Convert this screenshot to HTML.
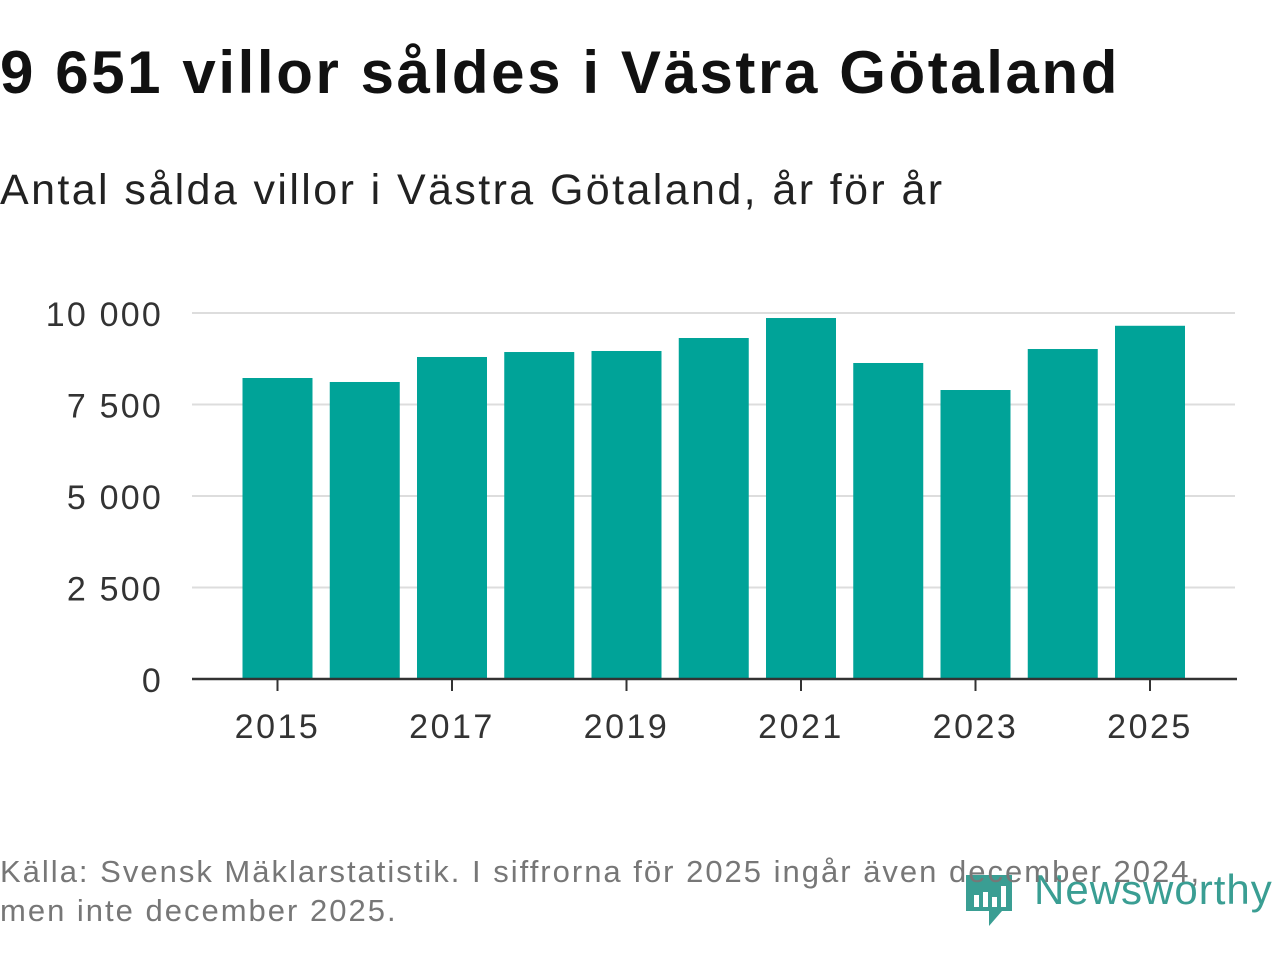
<!DOCTYPE html>
<html><head><meta charset="utf-8"><style>
body{margin:0;width:1280px;height:960px;background:#fff;font-family:"Liberation Sans",sans-serif;position:relative;overflow:hidden}
#title{position:absolute;left:0;top:38px;font-size:60px;font-weight:bold;color:#111;white-space:nowrap;letter-spacing:2.6px}
#sub{position:absolute;left:0;top:166px;font-size:43px;color:#222;white-space:nowrap;letter-spacing:2.4px}
#src{position:absolute;left:0;top:852px;font-size:31px;color:#777;line-height:39px;z-index:2;letter-spacing:2px;white-space:nowrap}
svg{position:absolute;left:0;top:0}
</style></head><body>
<div id="title">9 651 villor såldes i Västra Götaland</div>
<div id="sub">Antal sålda villor i Västra Götaland, år för år</div>
<svg id="chart" width="1280" height="960">
<g>
<path d="M966 875 h46 v36 h-10 l-13 15 v-15 h-23 z" fill="#3a9e93"/>
<rect x="974" y="895" width="5" height="12" fill="#fff"/><rect x="983" y="892" width="5" height="15" fill="#fff"/><rect x="992" y="897" width="5" height="10" fill="#fff"/><rect x="1001" y="886" width="5" height="21" fill="#fff"/>
<text x="1034" y="904" font-size="42" fill="#3a9e93" font-family="Liberation Sans, sans-serif" letter-spacing="1">Newsworthy</text>
</g>
</svg>
<div id="src">Källa: Svensk Mäklarstatistik. I siffrorna för 2025 ingår även december 2024,<br>men inte december 2025.</div>
<script>
const years=[2015,2016,2017,2018,2019,2020,2021,2022,2023,2024,2025];
const values=[8224,8115,8798,8934,8962,9317,9863,8634,7896,9016,9651];
const yTicks=[0,2500,5000,7500,10000];
const yTickLabels=["0","2 500","5 000","7 500","10 000"];
const xTickYears=[2015,2017,2019,2021,2023,2025];
const svg=document.getElementById('chart');
const NS='http://www.w3.org/2000/svg';
const y=v=>679-v*0.0366;
const x=yr=>277.5+(yr-2015)*87.25;
function mk(t,a){const e=document.createElementNS(NS,t);for(const k in a)e.setAttribute(k,a[k]);svg.appendChild(e);return e;}
yTicks.forEach((v,i)=>{
 if(v>0){const l=mk('line',{x1:192,x2:1235,y1:y(v),y2:y(v),stroke:'#ddd','stroke-width':2});
 
 }
 const t=mk('text',{x:163,y:y(v)+13,'text-anchor':'end','font-size':34,fill:'#333','letter-spacing':2.2});
 t.textContent=yTickLabels[i];
 
 
});
years.forEach((yr,i)=>{
 const r=mk('rect',{x:x(yr)-35,y:y(values[i]),width:70,height:679-y(values[i]),fill:'#00a398'});
 
 
});
const ax=mk('line',{x1:192,x2:1237,y1:679,y2:679,stroke:'#333','stroke-width':2.5});


xTickYears.forEach(yr=>{
 const tk=mk('line',{x1:x(yr),x2:x(yr),y1:679,y2:691,stroke:'#333','stroke-width':2});
 
 
 const t=mk('text',{x:x(yr),y:738,'text-anchor':'middle','font-size':34,fill:'#333','letter-spacing':2.5});
 t.textContent=yr;
 
 
});
</script>
</body></html>
